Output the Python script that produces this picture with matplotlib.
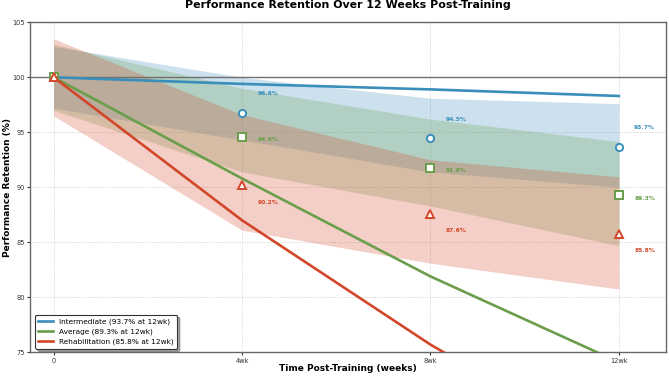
#!/usr/bin/env python3
"""
Performance retention over 12 weeks, three groups with variability bands.
"""

import matplotlib
matplotlib.use("Agg")
import matplotlib.pyplot as plt

# time points (weeks) and tick labels
weeks = [0, 4, 8, 12]
tick_labels = ["0", "4wk", "8wk", "12wk"]

groups = ["Intermediate", "Average", "Rehabilitation"]

# observed retention (markers)
obs_intermediate = [100.0, 96.8, 94.5, 93.7]
obs_average = [100.0, 94.6, 91.8, 89.3]
obs_rehab = [100.0, 90.2, 87.6, 85.8]

# model trend lines
trend_intermediate = [100.0, 99.4, 98.9, 98.3]
trend_average = [100.0, 90.8, 81.9, 74.1]
trend_rehab = [100.0, 87.0, 75.7, 65.8]

# variability bands (lower / upper)
low_intermediate = [97.2, 94.3, 91.4, 90.0]
high_intermediate = [102.8, 100.0, 98.1, 97.6]
low_average = [97.0, 91.4, 88.3, 84.7]
high_average = [103.0, 99.0, 96.2, 94.15]
low_rehab = [96.5, 86.1, 83.1, 80.75]
high_rehab = [103.5, 96.6, 92.5, 90.95]


def main():
    colors = ["#3A8EBA", "#6A9E4B", "#D2472A"]
    markers = ["o", "s", "^"]
    label_dy = [13.5, -2.2, -12.2]

    obs = [obs_intermediate, obs_average, obs_rehab]
    trends = [trend_intermediate, trend_average, trend_rehab]
    lows = [low_intermediate, low_average, low_rehab]
    highs = [high_intermediate, high_average, high_rehab]

    fig = plt.figure(figsize=(6.69, 3.76), dpi=100)
    ax = fig.add_axes([0.045, 0.063, 0.9505, 0.8777])

    # bands
    for lo, hi, c in zip(lows, highs, colors):
        ax.fill_between(weeks, lo, hi, color=c, alpha=0.26, linewidth=0, zorder=1)

    # baseline
    ax.axhline(100, color="#707070", linewidth=1.0, zorder=2)

    # trend lines
    for g, tr, ob, c in zip(groups, trends, obs, colors):
        ax.plot(weeks, tr, color=c, linewidth=1.9, zorder=3,
                label=f"{g} ({ob[-1]:.1f}% at 12wk)")

    # observed points + labels
    for ob, c, m, dy in zip(obs, colors, markers, label_dy):
        ax.plot(weeks, ob, linestyle="none", marker=m, markersize=5.2,
                markerfacecolor="white", markeredgecolor=c,
                markeredgewidth=1.4, zorder=4)
        for w, v in zip(weeks[1:], ob[1:]):
            ax.annotate(f"{v:.1f}%", (w, v), xytext=(11, dy),
                        textcoords="offset points", ha="left", va="center",
                        fontsize=4.3, fontweight="bold", color=c)

    ax.set_xlim(-0.5, 13)
    ax.set_ylim(75, 105)
    ax.set_xticks(weeks)
    ax.set_xticklabels(tick_labels)
    ax.set_yticks(range(75, 106, 5))
    ax.tick_params(labelsize=4.8, colors="#333333", length=2.5, width=0.8, pad=1.5)

    ax.set_xlabel("Time Post-Training (weeks)", fontsize=6.5, fontweight="bold", labelpad=0)
    ax.set_ylabel("Performance Retention (%)", fontsize=6.5, fontweight="bold", labelpad=0)
    ax.set_title("Performance Retention Over 12 Weeks Post-Training",
                 fontsize=7.9, fontweight="bold", pad=10)

    ax.grid(True, linestyle=":", color="#bbbbbb", linewidth=0.6, alpha=0.8)
    ax.set_axisbelow(True)
    for s in ax.spines.values():
        s.set_color("#666666")
        s.set_linewidth(1.0)

    leg = ax.legend(loc="lower left", fontsize=5.3, frameon=True, shadow=True,
                    fancybox=True, handlelength=2.0, borderpad=0.45,
                    labelspacing=0.5, bbox_to_anchor=(0.002, 0.0))
    leg.get_frame().set_edgecolor("#333333")
    leg.get_frame().set_linewidth(0.8)

    fig.savefig("out.png", dpi=100)
    plt.close(fig)


if __name__ == "__main__":
    main()
